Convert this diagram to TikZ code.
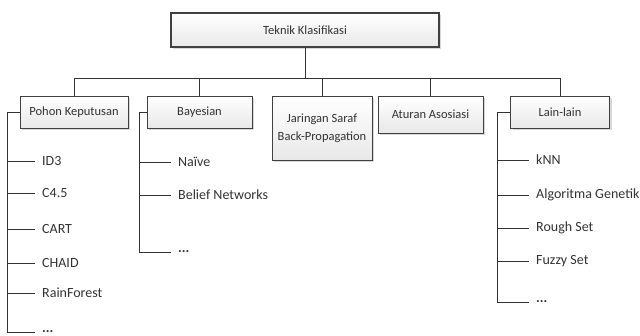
\documentclass[tikz,border=0pt]{standalone}
\usepackage{fontspec}
\setmainfont{Carlito}
\usetikzlibrary{positioning,shadows}

\begin{document}
\begin{tikzpicture}[
  x=1pt, y=-1pt,
  font=\fontsize{12.5}{15}\selectfont,
  kotak/.style={draw=black!75, top color=white, bottom color=black!9, align=center, text=black!80, inner sep=0pt,
    drop shadow={shadow xshift=2pt, shadow yshift=-2pt, fill=black!30, opacity=0.5}},
  daun/.style={anchor=west, inner xsep=7pt, text=black!80, font=\fontsize{14}{16}\selectfont},
  garis/.style={draw=black!80, line width=0.8pt}
]
  \clip (0,0) rectangle (640,336);

  \node[kotak, line width=1.5pt, minimum width=268pt, minimum height=34pt] (akar) at (305,30) {Teknik Klasifikasi};
  \node[kotak, minimum width=108pt, minimum height=32pt] (pohon) at (74,112) {Pohon Keputusan};
  \node[kotak, minimum width=105pt, minimum height=32pt] (bayes) at (199.5,112) {Bayesian};
  \node[kotak, minimum width=100pt, minimum height=64pt, font=\fontsize{12.5}{18}\selectfont] (jst) at (322,128) {Jaringan Saraf\\Back-Propagation};
  \node[kotak, minimum width=105pt, minimum height=37pt] (aturan) at (430.5,114.5) {Aturan Asosiasi};
  \node[kotak, minimum width=99pt, minimum height=32pt] (lain) at (560,112) {Lain-lain};

  % cabang utama
  \coordinate (rel) at (305,78);
  \draw[garis] (akar.south) -- (akar.south |- rel);
  \draw[garis] (pohon.north |- rel) -- (lain.north |- rel);
  \foreach \n in {pohon,bayes,jst,aturan,lain}
    \draw[garis] (\n.north |- rel) -- (\n.north);

  % pohon keputusan
  \coordinate (pbar) at (7,112);
  \node[daun] (id3) at (35,161) {ID3};
  \node[daun] (c45) at (35,193) {C4.5};
  \node[daun] (cart) at (35,229) {CART};
  \node[daun] (chaid) at (35,263) {CHAID};
  \node[daun] (rain) at (35,293) {RainForest};
  \node[daun] (pdots) at (35,332) {\textbf{...}};
  \draw[garis] (pohon.west) -- (pbar) |- (pdots.west);
  \foreach \d in {id3,c45,cart,chaid,rain}
    \draw[garis] (pbar |- \d.west) -- (\d.west);

  % bayesian
  \coordinate (bbar) at (139,112);
  \node[daun] (naive) at (171,162) {Naïve};
  \node[daun] (belief) at (171,195) {Belief Networks};
  \node[daun] (bdots) at (171,252) {\textbf{...}};
  \draw[garis] (bayes.west) -- (bbar) |- (bdots.west);
  \foreach \d in {naive,belief}
    \draw[garis] (bbar |- \d.west) -- (\d.west);

  % lain-lain
  \coordinate (lbar) at (497,112);
  \node[daun] (knn) at (529,160) {kNN};
  \node[daun] (ag) at (529,195) {Algoritma Genetik};
  \node[daun] (rough) at (529,228) {Rough Set};
  \node[daun] (fuzzy) at (529,261) {Fuzzy Set};
  \node[daun] (ldots) at (529,302) {\textbf{...}};
  \draw[garis] (lain.west) -- (lbar) |- (ldots.west);
  \foreach \d in {knn,ag,rough,fuzzy}
    \draw[garis] (lbar |- \d.west) -- (\d.west);
\end{tikzpicture}
\end{document}
